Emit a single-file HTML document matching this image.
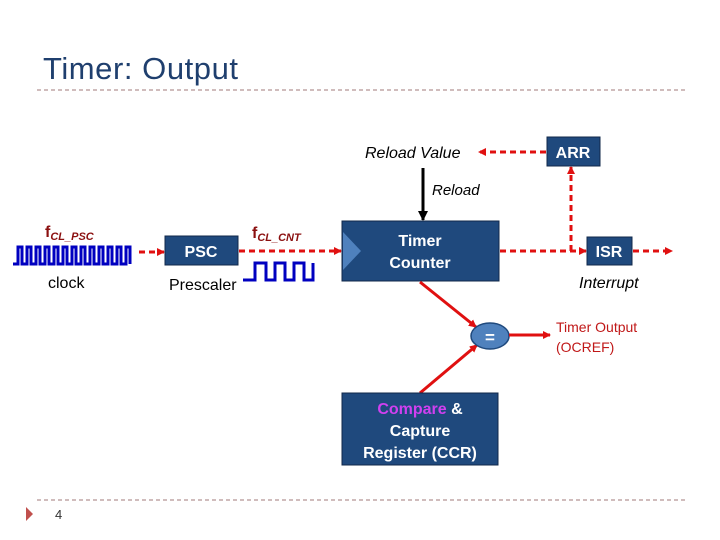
<!DOCTYPE html>
<html><head><meta charset="utf-8"><style>
body{margin:0;background:#fff;}
svg{display:block;font-family:"Liberation Sans",Arial,sans-serif;}
</style></head><body>
<svg width="720" height="540" viewBox="0 0 720 540" xmlns="http://www.w3.org/2000/svg">
<defs>
<marker id="ar" markerWidth="8" markerHeight="8" refX="7" refY="4" orient="auto" markerUnits="userSpaceOnUse"><path d="M0,0 L8,4 L0,8 z" fill="#e01010"/></marker>
<marker id="ab" markerWidth="10" markerHeight="10" refX="9" refY="5" orient="auto" markerUnits="userSpaceOnUse"><path d="M0,0 L10,5 L0,10 z" fill="#000"/></marker>
</defs>
<text x="43" y="79" font-size="31" fill="#1f3f6e" textLength="195">Timer: Output</text>
<line x1="37" y1="90" x2="685" y2="90" stroke="#a07878" stroke-width="1" stroke-dasharray="4,3"/>
<line x1="37" y1="500" x2="685" y2="500" stroke="#a07878" stroke-width="1" stroke-dasharray="4,3"/>
<path d="M26,507 L33,514 L26,521 z" fill="#c0504d"/>
<text x="55" y="519" font-size="13" fill="#333">4</text>

<text x="45" y="237" font-size="16" font-weight="bold" fill="#8b1010">f<tspan font-size="11" font-style="italic" dy="3">CL_PSC</tspan></text>
<path d="M13,264 L18,264 L18,247 L22,247 L22,264 L27,264 L27,247 L31,247 L31,264 L36,264 L36,247 L40,247 L40,264 L45,264 L45,247 L49,247 L49,264 L54,264 L54,247 L58,247 L58,264 L63,264 L63,247 L67,247 L67,264 L72,264 L72,247 L76,247 L76,264 L81,264 L81,247 L85,247 L85,264 L90,264 L90,247 L94,247 L94,264 L99,264 L99,247 L103,247 L103,264 L108,264 L108,247 L112,247 L112,264 L117,264 L117,247 L121,247 L121,264 L126,264 L126,247 L130,247 L130,264" fill="none" stroke="#0000c0" stroke-width="3"/>
<text x="48" y="288" font-size="16" fill="#000">clock</text>
<line x1="139" y1="252" x2="164" y2="252" stroke="#e01010" stroke-width="3" stroke-dasharray="6,4" marker-end="url(#ar)"/>
<rect x="165" y="236" width="73" height="29" fill="#1f497d" stroke="#10284a"/>
<text x="201" y="257" font-size="16" font-weight="bold" fill="#fff" text-anchor="middle">PSC</text>
<text x="169" y="290" font-size="16" fill="#000">Prescaler</text>
<text x="252" y="238" font-size="16" font-weight="bold" fill="#8b1010">f<tspan font-size="11" font-style="italic" dy="3">CL_CNT</tspan></text>
<line x1="239" y1="251" x2="341" y2="251" stroke="#e01010" stroke-width="3" stroke-dasharray="6,4" marker-end="url(#ar)"/>
<path d="M243,280 L255,280 L255,263 L266,263 L266,280 L275,280 L275,263 L285,263 L285,280 L294,280 L294,263 L304,263 L304,280 L313,280 L313,263" fill="none" stroke="#0000c0" stroke-width="3"/>

<rect x="342" y="221" width="157" height="60" fill="#1f497d" stroke="#10284a"/>
<path d="M343,232 L361,251 L343,270 z" fill="#4f81bd"/>
<text x="420" y="246" font-size="16" font-weight="bold" fill="#fff" text-anchor="middle">Timer</text>
<text x="420" y="268" font-size="16" font-weight="bold" fill="#fff" text-anchor="middle">Counter</text>

<text x="365" y="158" font-size="16" font-style="italic" fill="#000">Reload Value</text>
<rect x="547" y="137" width="53" height="29" fill="#1f497d" stroke="#10284a"/>
<text x="573" y="158" font-size="16" font-weight="bold" fill="#fff" text-anchor="middle">ARR</text>
<line x1="546" y1="152" x2="479" y2="152" stroke="#e01010" stroke-width="3" stroke-dasharray="6,4" marker-end="url(#ar)"/>
<line x1="423" y1="168" x2="423" y2="220" stroke="#000" stroke-width="3" marker-end="url(#ab)"/>
<text x="432" y="195" font-size="15" font-style="italic" fill="#000">Reload</text>

<line x1="500" y1="251" x2="586" y2="251" stroke="#e01010" stroke-width="3" stroke-dasharray="6,4" marker-end="url(#ar)"/>
<line x1="571" y1="251" x2="571" y2="167" stroke="#e01010" stroke-width="3" stroke-dasharray="6,4" marker-end="url(#ar)"/>
<rect x="587" y="237" width="45" height="28" fill="#1f497d" stroke="#10284a"/>
<text x="609" y="257" font-size="16" font-weight="bold" fill="#fff" text-anchor="middle">ISR</text>
<line x1="633" y1="251" x2="672" y2="251" stroke="#e01010" stroke-width="3" stroke-dasharray="6,4" marker-end="url(#ar)"/>
<text x="579" y="288" font-size="16" font-style="italic" fill="#000">Interrupt</text>

<line x1="420" y1="282" x2="476" y2="327" stroke="#e01010" stroke-width="3" marker-end="url(#ar)"/>
<line x1="420" y1="393" x2="477" y2="345" stroke="#e01010" stroke-width="3" marker-end="url(#ar)"/>
<ellipse cx="490" cy="336" rx="19" ry="13" fill="#4f81bd" stroke="#1f497d" stroke-width="1.5"/>
<text x="490" y="343" font-size="17" font-weight="bold" fill="#fff" text-anchor="middle">=</text>
<line x1="509" y1="335" x2="550" y2="335" stroke="#e01010" stroke-width="3" marker-end="url(#ar)"/>
<text x="556" y="332" font-size="14" fill="#c01818">Timer Output</text>
<text x="556" y="352" font-size="14" fill="#c01818">(OCREF)</text>

<rect x="342" y="393" width="156" height="72" fill="#1f497d" stroke="#10284a"/>
<text x="420" y="414" font-size="16" font-weight="bold" fill="#fff" text-anchor="middle"><tspan fill="#d040f0">Compare</tspan> &amp;</text>
<text x="420" y="436" font-size="16" font-weight="bold" fill="#fff" text-anchor="middle">Capture</text>
<text x="420" y="458" font-size="16" font-weight="bold" fill="#fff" text-anchor="middle">Register (CCR)</text>
</svg>
</body></html>
